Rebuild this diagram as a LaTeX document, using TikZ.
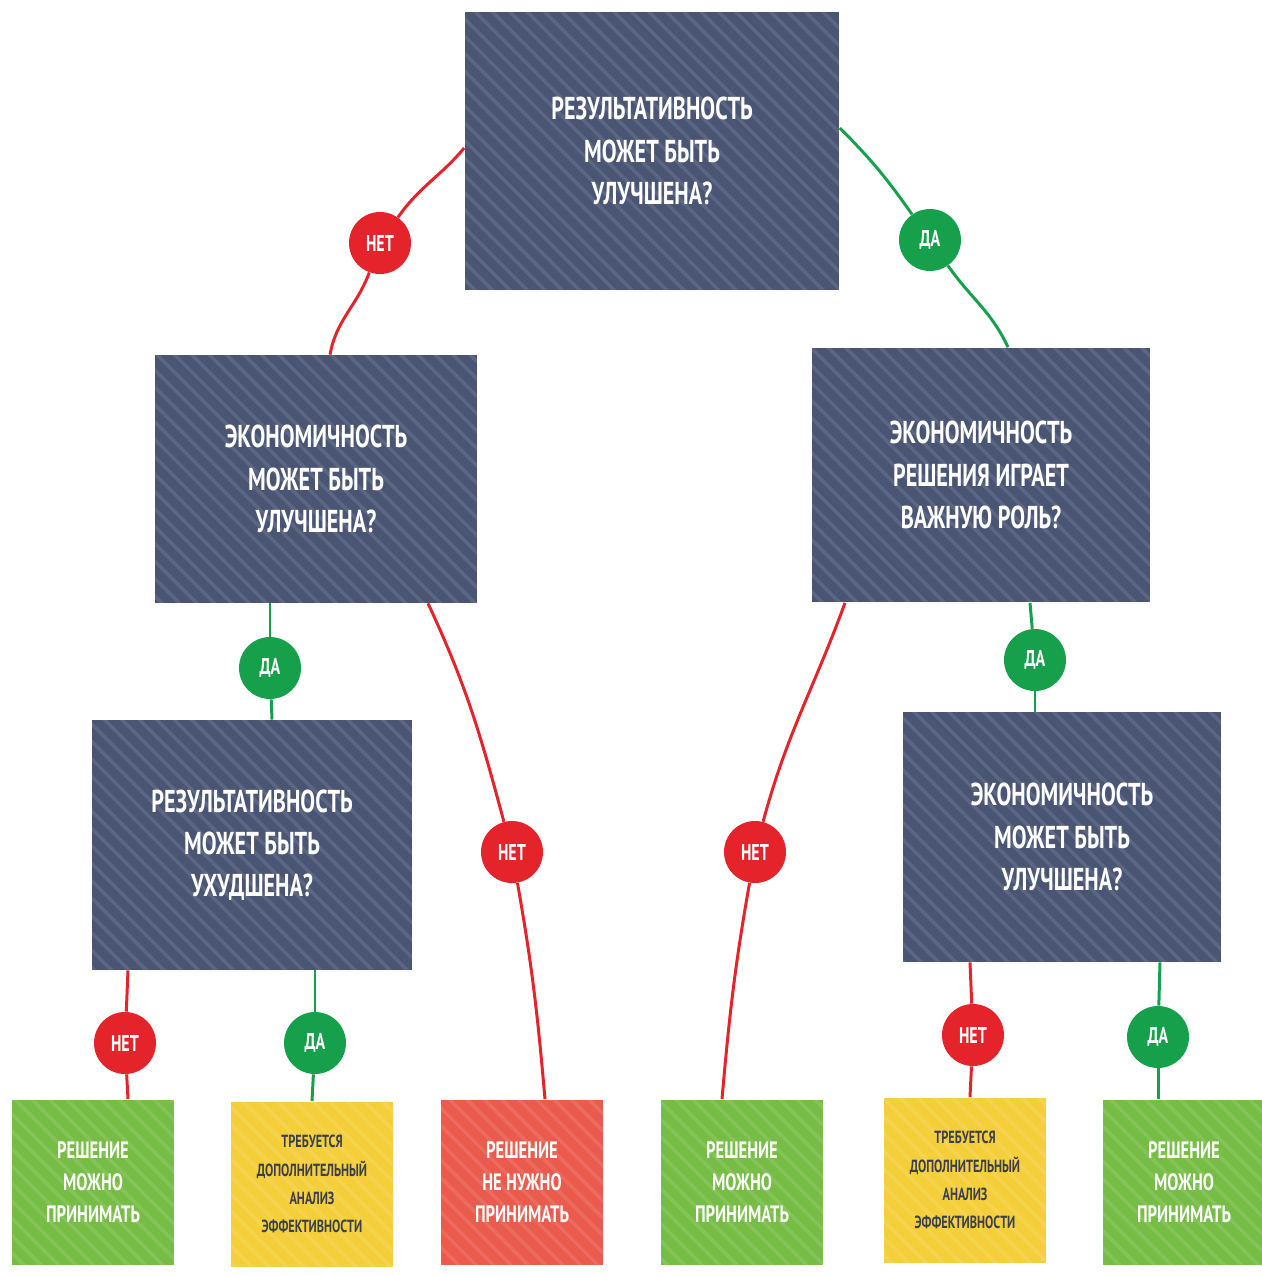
\documentclass[tikz,border=0pt]{standalone}
\usepackage{fontspec}
\setmainfont[FakeStretch=0.7]{PT Sans}
\usepackage{tikz}
\usetikzlibrary{calc,patterns.meta}

\definecolor{slate}{HTML}{4A5574}
\definecolor{nored}{HTML}{E4232B}
\definecolor{yesgreen}{HTML}{17A04B}
\definecolor{leafgreen}{HTML}{76BD45}
\definecolor{leafyellow}{HTML}{F5CF3A}
\definecolor{leafred}{HTML}{EA5B4D}
\definecolor{darktext}{HTML}{3A3F4C}

\begin{document}
\begin{tikzpicture}[x=0.02cm,y=-0.02cm,align=center,
	hatch/.style={postaction={pattern={Lines[angle=-45,distance=7pt,line width=2pt]},pattern color=white,opacity=0.1}},
	question/.style={rectangle,fill=slate,hatch,text=white,font=\bfseries\fontsize{18}{24}\selectfont,inner sep=0pt},
	leaf/.style={rectangle,hatch,minimum width=3.26cm,minimum height=3.3cm,inner sep=0pt},
	say/.style={leaf,text=white,font=\bfseries\fontsize{13.5}{18.2}\selectfont},
	wait/.style={leaf,fill=leafyellow,text=darktext,font=\bfseries\fontsize{10}{16}\selectfont},
	badge/.style={circle,minimum size=1.24cm,inner sep=0pt,text=white,font=\bfseries\fontsize{13}{14}\selectfont},
	no/.style={draw=nored,line width=1.7pt},
	yes/.style={draw=yesgreen,line width=1.7pt}]
	\useasboundingbox (0,0) rectangle (1262,1276);

	% questions
	\node[question,minimum width=7.5cm,minimum height=5.56cm] (q_0) at (652,151) {РЕЗУЛЬТАТИВНОСТЬ\\МОЖЕТ БЫТЬ\\УЛУЧШЕНА?};
	\node[question,minimum width=6.46cm,minimum height=4.96cm] (q_1) at (316,479) {ЭКОНОМИЧНОСТЬ\\МОЖЕТ БЫТЬ\\УЛУЧШЕНА?};
	\node[question,minimum width=6.76cm,minimum height=5.1cm] (q_2) at (981,475) {ЭКОНОМИЧНОСТЬ\\РЕШЕНИЯ ИГРАЕТ\\ВАЖНУЮ РОЛЬ?};
	\node[question,minimum width=6.4cm,minimum height=5cm] (q_3) at (252,845) {РЕЗУЛЬТАТИВНОСТЬ\\МОЖЕТ БЫТЬ\\УХУДШЕНА?};
	\node[question,minimum width=6.38cm,minimum height=5cm] (q_4) at (1062,837) {ЭКОНОМИЧНОСТЬ\\МОЖЕТ БЫТЬ\\УЛУЧШЕНА?};

	% outcomes
	\node[say,fill=leafgreen] (r_1) at (93,1182) {РЕШЕНИЕ\\МОЖНО\\ПРИНИМАТЬ};
	\node[wait] (r_2) at (312,1184) {ТРЕБУЕТСЯ\\ДОПОЛНИТЕЛЬНЫЙ\\АНАЛИЗ\\ЭФФЕКТИВНОСТИ};
	\node[say,fill=leafred] (r_3) at (522,1182) {РЕШЕНИЕ\\НЕ НУЖНО\\ПРИНИМАТЬ};
	\node[say,fill=leafgreen] (r_4) at (742,1182) {РЕШЕНИЕ\\МОЖНО\\ПРИНИМАТЬ};
	\node[wait] (r_5) at (965,1180) {ТРЕБУЕТСЯ\\ДОПОЛНИТЕЛЬНЫЙ\\АНАЛИЗ\\ЭФФЕКТИВНОСТИ};
	\node[say,fill=leafgreen] (r_6) at (1184,1182) {РЕШЕНИЕ\\МОЖНО\\ПРИНИМАТЬ};

	% answers
	\node[badge,fill=nored] (a_1) at (380,243) {НЕТ};
	\node[badge,fill=yesgreen] (a_2) at (930,240) {ДА};
	\node[badge,fill=yesgreen] (a_3) at (270,668) {ДА};
	\node[badge,fill=nored] (a_4) at (512,852) {НЕТ};
	\node[badge,fill=nored] (a_5) at (755,852) {НЕТ};
	\node[badge,fill=yesgreen] (a_6) at (1035,660) {ДА};
	\node[badge,fill=nored] (a_7) at (125,1043) {НЕТ};
	\node[badge,fill=yesgreen] (a_8) at (315,1043) {ДА};
	\node[badge,fill=nored] (a_9) at (973,1035) {НЕТ};
	\node[badge,fill=yesgreen] (a_10) at (1158,1037) {ДА};

	\path
		($(q_0.west)+(0,-3)$) edge[no,out=-130,in=55] (a_1)
		(a_1) edge[no,out=-110,in=80] ($(q_1.north)+(14,0)$)
		($(q_0.east)+(0,-23)$) edge[yes,out=-45,in=125] (a_2)
		(a_2) edge[yes,out=-55,in=115] ($(q_2.north)+(27,0)$)
		($(q_1.south)+(-46,0)$) edge[yes] (a_3)
		(a_3) edge[yes] ($(q_3.north)+(20,0)$)
		($(q_1.south)+(112,0)$) edge[no,out=-65,in=105] (a_4)
		(a_4) edge[no,out=-80,in=95] ($(r_3.north)+(23,0)$)
		($(q_2.south)+(-136,0)$) edge[no,out=-110,in=75] (a_5)
		(a_5) edge[no,out=-100,in=85] ($(r_4.north)+(-20,0)$)
		($(q_2.south)+(49,0)$) edge[yes] (a_6)
		(a_6) edge[yes] ($(q_4.north)+(-27,0)$)
		($(q_3.south)+(-124,0)$) edge[no] (a_7)
		(a_7) edge[no] ($(r_1.north)+(35,0)$)
		($(q_3.south)+(63,0)$) edge[yes] (a_8)
		(a_8) edge[yes] (r_2.north)
		($(q_4.south)+(-92,0)$) edge[no] (a_9)
		(a_9) edge[no] ($(r_5.north)+(5,0)$)
		($(q_4.south)+(98,0)$) edge[yes] (a_10)
		(a_10) edge[yes] ($(r_6.north)+(-26,0)$);
\end{tikzpicture}
\end{document}
